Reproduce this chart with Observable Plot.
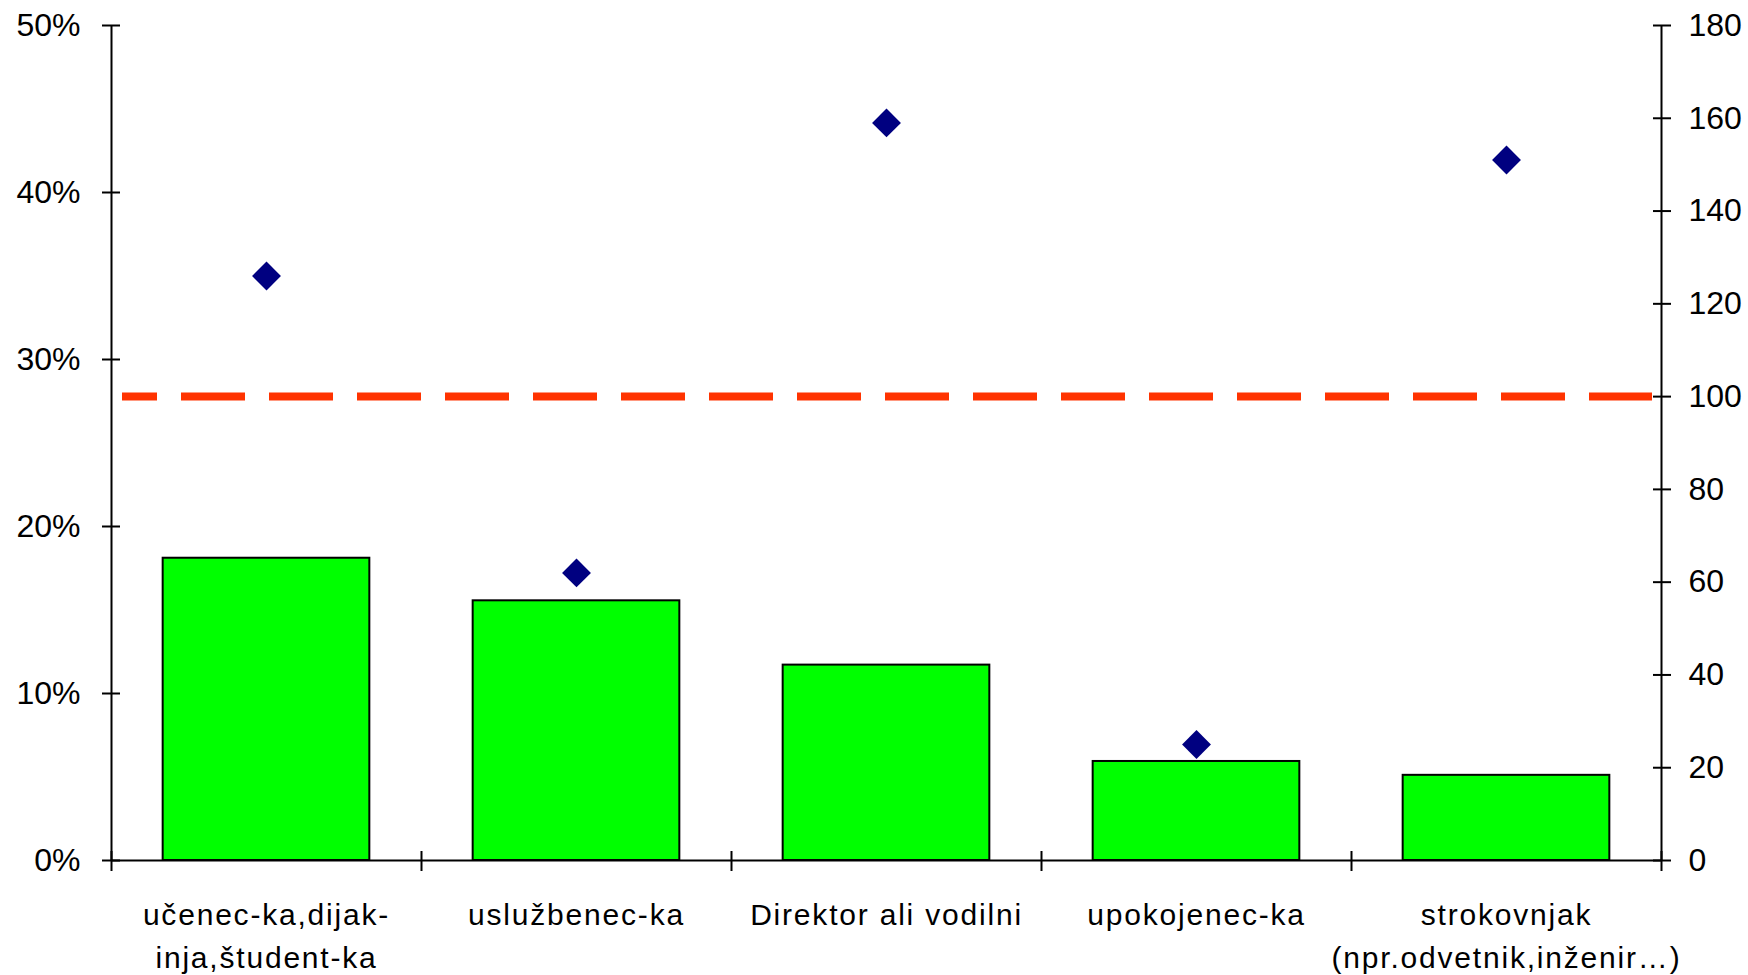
<!DOCTYPE html>
<html>
<head>
<meta charset="utf-8">
<script src="https://cdn.jsdelivr.net/npm/d3@7"></script>
<script src="https://cdn.jsdelivr.net/npm/@observablehq/plot@0.6"></script>
<style>
  html, body { margin: 0; padding: 0; background: #ffffff; }
  #chart svg { display: block; }
</style>
</head>
<body>
<div id="chart"></div>
<script>
// Occupational groups (x categories)
const categories = [
  "učenec-ka,dijak-\ninja,študent-ka",
  "uslužbenec-ka",
  "Direktor ali vodilni",
  "upokojenec-ka",
  "strokovnjak\n(npr.odvetnik,inženir…)"
];
// Share of respondents per group (bars, left axis)
const shares = [0.181, 0.1555, 0.117, 0.0593, 0.051];
// Index per group (diamonds, right axis)
const indexValues = [126, 62, 159, 25, 151];
// Reference index level (dashed line)
const referenceIndex = 100;
// Axis ticks
const leftTicks = [0, 0.1, 0.2, 0.3, 0.4, 0.5];
const rightTicks = [0, 20, 40, 60, 80, 100, 120, 140, 160, 180];
const rightMax = 180;
const leftMax = 0.5;

// The right axis is drawn on the left scale: 180 lines up with 50%
const toLeft = v => v / rightMax * leftMax;

const rows = categories.map((label, i) => ({i, label, share: shares[i], index: indexValues[i]}));
const n = categories.length;

const chart = Plot.plot({
  width: 1748,
  height: 975,
  marginLeft: 111,
  marginRight: 87,
  marginTop: 25,
  marginBottom: 115,
  x: {domain: [0, n], axis: null},
  y: {domain: [0, leftMax], axis: null},
  style: {
    fontFamily: "'Liberation Sans', Arial, sans-serif",
    fontSize: "32px",
    color: "black",
    background: "white"
  },
  marks: [
    Plot.rectY(rows, {
      x1: d => d.i + 1 / 6,
      x2: d => d.i + 5 / 6,
      y: "share",
      fill: "#00FF00",
      stroke: "black",
      strokeWidth: 2
    }),
    Plot.ruleY([toLeft(referenceIndex)], {
      stroke: "#FF3300",
      strokeWidth: 8,
      strokeDasharray: "64,24",
      strokeDashoffset: 29,
      insetLeft: 11,
      insetRight: 9
    }),
    Plot.dot(rows, {
      x: d => d.i + 0.5,
      y: d => toLeft(d.index),
      symbol: "diamond2",
      r: 13,
      fill: "#000080",
      stroke: "none"
    }),
    Plot.ruleX([0, n], {stroke: "black", strokeWidth: 2}),
    Plot.ruleY([0], {stroke: "black", strokeWidth: 2}),
    Plot.axisY({
      anchor: "left",
      ticks: leftTicks,
      tickSize: 18,
      dx: 9,
      tickPadding: 22,
      strokeWidth: 2,
      tickFormat: d3.format(".0%"),
      label: null
    }),
    Plot.axisY({
      anchor: "right",
      ticks: rightTicks.map(toLeft),
      tickSize: 18,
      dx: -9,
      tickPadding: 18,
      strokeWidth: 2,
      tickFormat: d => String(Math.round(d / leftMax * rightMax)),
      label: null
    }),
    Plot.axisX({
      ticks: d3.range(n + 1),
      tickSize: 20,
      dy: -9,
      strokeWidth: 2,
      tickFormat: () => "",
      label: null
    }),
    Plot.text(rows, {
      x: d => d.i + 0.5,
      text: "label",
      frameAnchor: "bottom",
      lineAnchor: "top",
      dy: 33.5,
      lineHeight: 1.433,
      fontSize: 30,
      fill: "black"
    })
  ]
});

// Slightly wider tracking on the category labels
d3.select(chart).selectAll('g[aria-label="text"] text').style("letter-spacing", "1.8px");

document.getElementById("chart").appendChild(chart);
</script>
</body>
</html>
